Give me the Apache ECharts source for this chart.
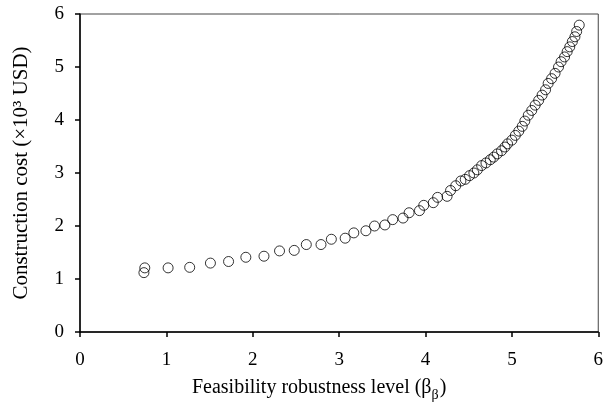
<!DOCTYPE html>
<html>
<head>
<meta charset="utf-8">
<script src="https://cdn.jsdelivr.net/npm/echarts@6/dist/echarts.min.js"></script>
<style>
  html, body { margin: 0; padding: 0; background: #fff; }
  #main { width: 606px; height: 407px; }
</style>
</head>
<body>
<div id="main"></div>
<script>
// robustness level (x) and construction cost in 10^3 USD (y)
const robustness = [0.74, 0.75, 1.02, 1.27, 1.51, 1.72, 1.92, 2.13, 2.31, 2.48,
  2.62, 2.79, 2.91, 3.07, 3.17, 3.31, 3.41, 3.53, 3.62, 3.74,
  3.81, 3.93, 3.98, 4.09, 4.14, 4.25, 4.29, 4.35, 4.41, 4.46,
  4.51, 4.56, 4.60, 4.65, 4.70, 4.75, 4.79, 4.83, 4.88, 4.92,
  4.95, 5.00, 5.04, 5.08, 5.12, 5.15, 5.19, 5.23, 5.27, 5.31,
  5.35, 5.39, 5.42, 5.46, 5.50, 5.54, 5.57, 5.61, 5.64, 5.67,
  5.70, 5.73, 5.75, 5.78];
const cost = [1.12, 1.21, 1.21, 1.22, 1.30, 1.33, 1.41, 1.43, 1.53, 1.54,
  1.65, 1.65, 1.75, 1.77, 1.87, 1.91, 2.00, 2.02, 2.12, 2.15,
  2.25, 2.29, 2.39, 2.44, 2.54, 2.56, 2.67, 2.76, 2.85, 2.88,
  2.95, 3.00, 3.06, 3.14, 3.19, 3.25, 3.30, 3.36, 3.42, 3.49,
  3.55, 3.62, 3.71, 3.79, 3.88, 3.98, 4.09, 4.18, 4.28, 4.37,
  4.47, 4.57, 4.69, 4.78, 4.88, 5.00, 5.10, 5.19, 5.29, 5.38,
  5.48, 5.57, 5.67, 5.79];

const font = 'Liberation Serif';
const chart = echarts.init(document.getElementById('main'));

chart.setOption({
  animation: false,
  grid: {
    left: 80, right: 6, top: 14, bottom: 75,
    show: true, borderColor: '#444', borderWidth: 1
  },
  xAxis: {
    type: 'value', min: 0, max: 6, interval: 1,
    name: '{a|Feasibility robustness level (β}{b|β}{a|)}',
    nameLocation: 'middle', nameGap: 46,
    nameTextStyle: {
      padding: [0, 40, 0, 0],
      rich: {
        a: { fontFamily: font, fontSize: 20, color: '#000', verticalAlign: 'bottom' },
        b: { fontFamily: font, fontSize: 14, color: '#000', verticalAlign: 'bottom', padding: [0, 1, -4, 0] }
      }
    },
    axisLine: { lineStyle: { color: '#000', width: 1.5 } },
    axisTick: { inside: false, length: 5, lineStyle: { color: '#000', width: 1.5 } },
    axisLabel: { fontFamily: font, fontSize: 19, color: '#000', margin: 19 },
    splitLine: { show: false }
  },
  yAxis: {
    type: 'value', min: 0, max: 6, interval: 1,
    name: 'Construction cost (×10³ USD)',
    nameLocation: 'middle', nameGap: 48,
    nameTextStyle: { fontFamily: font, fontSize: 21, color: '#000' },
    axisLine: { lineStyle: { color: '#000', width: 1.5 } },
    axisTick: { inside: false, length: 5, lineStyle: { color: '#000', width: 1.5 } },
    axisLabel: { fontFamily: font, fontSize: 19, color: '#000', margin: 16 },
    splitLine: { show: false }
  },
  series: [{
    type: 'scatter',
    symbol: 'circle',
    symbolSize: 10,
    itemStyle: { color: 'rgba(0,0,0,0)', borderColor: '#000', borderWidth: 1 },
    data: robustness.map((x, i) => [x, cost[i]])
  }]
});
</script>
</body>
</html>
